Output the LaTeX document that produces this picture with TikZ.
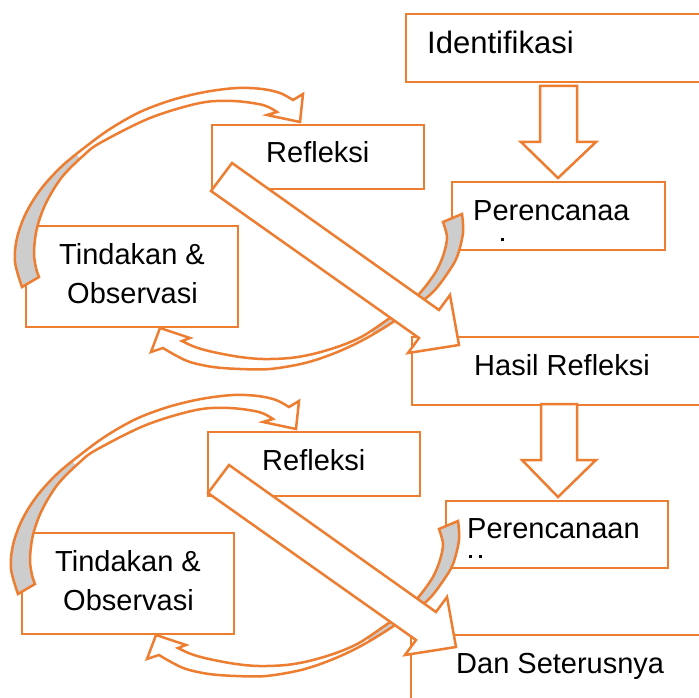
\documentclass[tikz,border=0pt]{standalone}
\usepackage{fontspec}
\setmainfont{Liberation Sans}
\definecolor{acc}{HTML}{ED7D31}
\definecolor{backface}{HTML}{CDCDCD}
\tikzset{
  box/.style={draw=acc, line width=2.5pt, fill=white, rectangle, inner sep=0pt, outer sep=0pt},
  lbl/.style={anchor=base west, inner sep=0pt, font=\fontsize{29}{34}\selectfont},
  shp/.style={draw=acc, line width=2.5pt, line join=miter},
}
\newcommand\arcApath{(22,287) -- plot[smooth,tension=0.55] coordinates {(22,287) (15,262) (17,238) (26,213) (41,189) (61,167) (84,148) (110,129) (140,112) (172,100) (205,92) (237,88) (262,89) (280,93) (293,100)} -- (303,94) -- (300,122) -- (267,115) -- (277,112) -- plot[smooth,tension=0.55] coordinates {(277,112) (263,105) (233,101) (200,103) (150,118) (100,143) (84,155) (62,177) (46,203) (37,228) (34,252) (36,268) (39,277)} -- cycle}
\newcommand\arcBpath{(462,214) -- plot[smooth,tension=0.55] coordinates {(462,214) (463,233) (457,257) (447,274) (433,292) (413,308) (390,324) (363,340) (335,353) (305,363) (270,369) (240,369) (213,367) (190,362) (175,355) (163,348)} -- (151,352) -- (160,328) -- (190,338) -- (182,341) -- plot[smooth,tension=0.55] coordinates {(182,341) (195,347) (213,352) (240,357) (263,359) (290,358) (313,354) (340,346) (363,336) (387,320) (405,307) (420,293) (431,279) (438,268) (444,253) (447,237) (443,222)} -- cycle}
\newcommand\diagpath{(232,163) -- (439,310) -- (450,295) -- (459,345) -- (408,353) -- (419,338) -- (211,191) -- cycle}
\newcommand\leftcycle[2]{%
  \node[box, minimum width=212pt, minimum height=64pt, anchor=north west] (refl#1) at (212,125) {};
  \node[box, minimum width=212pt, minimum height=101pt, anchor=north west] (tind#1) at (26,226) {};
  % upper-left curved arrow
  \fill[white] \arcApath;
  \begin{scope}
    \clip (-36,0) -- (292,450) -- (-60,450) -- (-60,0) -- cycle;
    \fill[backface] \arcApath;
  \end{scope}
  \draw[shp] \arcApath;
  % lower-right curved arrow
  \fill[white] \arcBpath;
  \begin{scope}
    \clip (175,0) -- (442,450) -- (720,450) -- (720,0) -- cycle;
    \fill[backface] \arcBpath;
  \end{scope}
  \draw[shp] \arcBpath;
  % diagonal block arrow
  \begin{scope}[shift={#2}]
    \draw[shp, fill=white] \diagpath;
  \end{scope}
  \node[lbl] (trefl#1) at (266,163) {Refleksi};
  \node[lbl] (ttind#1) at (59,264) {Tindakan \&};
  \node[lbl] (tobs#1) at (67,303) {Observasi};
}
\begin{document}
\begin{tikzpicture}[x=1pt, y=-1pt]
\useasboundingbox (0,0) rectangle (699,698);
\clip (0,0) rectangle (699,698);
\fill[white] (0,0) rectangle (699,698);
% right column boxes
\node[box, minimum width=314pt, minimum height=68pt, anchor=north west] (ident) at (406,14) {};
\node[box, minimum width=213pt, minimum height=68pt, anchor=north west] (perA) at (452,182) {};
\node[box, minimum width=308pt, minimum height=68pt, anchor=north west] (hasil) at (412,337) {};
\node[box, minimum width=222pt, minimum height=67pt, anchor=north west] (perB) at (446,501) {};
\node[box, minimum width=309pt, minimum height=90pt, anchor=north west] (dan) at (411,635) {};
% cycles
\leftcycle{a}{(0,0)}
\begin{scope}[shift={(-4,307)}]
  \leftcycle{b}{(1,-5)}
\end{scope}
% down block arrows
\draw[shp, fill=white] (540,86) -- (577,86) -- (577,142) -- (596,142) -- (558,178) -- (521,142) -- (540,142) -- cycle;
\draw[shp, fill=white] (541,404) -- (577,404) -- (577,460) -- (596,460) -- (558,497) -- (522,460) -- (541,460) -- cycle;
% texts
\node[lbl, font=\fontsize{31}{36}\selectfont] (tident) at (427,54) {Identifikasi};
\node[lbl] (tperA) at (473,220) {Perencanaa};
\node[lbl] (thasil) at (474,375) {Hasil Refleksi};
\node[lbl] (tperB) at (467,538) {Perencanaan};
\node[lbl] (tdan) at (456,673) {Dan Seterusnya};
\fill (501,237.5) rectangle (503.5,240.5);
\fill (469,555) rectangle (471.5,557.5);
\fill (479,555) rectangle (481.5,557.5);
\end{tikzpicture}
\end{document}
